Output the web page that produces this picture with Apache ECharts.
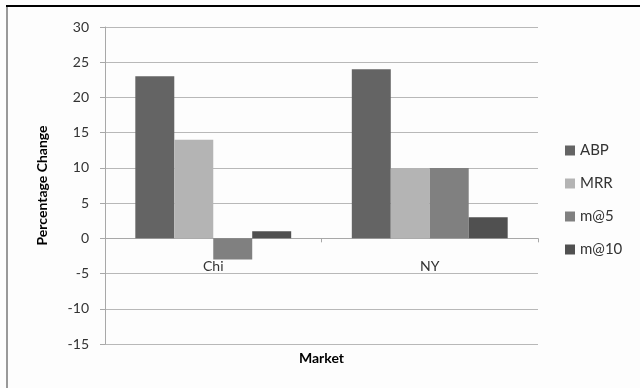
<!DOCTYPE html>
<html>
<head>
<meta charset="utf-8">
<script src="https://cdn.jsdelivr.net/npm/echarts@6/dist/echarts.min.js"></script>
<style>
  html, body { margin: 0; padding: 0; background: #fff; }
  #chart { width: 640px; height: 388px; }
</style>
</head>
<body>
<div id="chart"></div>
<script>
// Market categories and percentage change per ranking method
const markets = ['Chi', 'NY'];
const abp = [23, 24];
const mrr = [14, 10];
const m5 = [-3, 10];
const m10 = [1, 3];
const seriesNames = ['ABP', 'MRR', 'm@5', 'm@10'];
const seriesColors = ['#646464', '#b4b4b4', '#808080', '#505050'];

const font = 'Lato, "Open Sans", sans-serif';
const chart = echarts.init(document.getElementById('chart'), null, { renderer: 'canvas' });

const values = [abp, mrr, m5, m10];
const series = seriesNames.map((name, i) => ({
  name: name,
  type: 'bar',
  data: values[i],
  barGap: '0%',
  barCategoryGap: '28%',
  itemStyle: { color: seriesColors[i] },
  emphasis: { disabled: true }
}));

chart.setOption({
  backgroundColor: '#fdfdfd',
  animation: false,
  grid: { left: 105, right: 102, top: 27, bottom: 44, containLabel: false, outerBoundsMode: 'none' },
  legend: {
    orient: 'vertical',
    left: 560,
    top: 138,
    itemWidth: 10,
    itemHeight: 10,
    itemGap: 18,
    icon: 'rect',
    textStyle: { fontFamily: font, fontSize: 15, color: '#333' },
    data: seriesNames
  },
  xAxis: {
    type: 'category',
    data: markets,
    name: 'Market',
    nameLocation: 'middle',
    nameGap: 7,
    nameTextStyle: { fontFamily: font, fontSize: 14, fontWeight: 'bold', color: '#000' },
    axisLine: { onZero: true, lineStyle: { color: '#a8a8a8', width: 1 } },
    axisTick: { show: true, length: 4, lineStyle: { color: '#a8a8a8' } },
    // category labels sit just below the zero line
    axisLabel: { margin: -85, fontFamily: font, fontSize: 14, color: '#333' }
  },
  yAxis: {
    type: 'value',
    min: -15,
    max: 30,
    interval: 5,
    name: 'Percentage Change',
    nameLocation: 'middle',
    nameGap: 56,
    nameTextStyle: { fontFamily: font, fontSize: 14, fontWeight: 'bold', color: '#000' },
    axisLine: { show: true, lineStyle: { color: '#a8a8a8', width: 1 } },
    axisTick: { show: true, length: 5, lineStyle: { color: '#a8a8a8' } },
    axisLabel: { margin: 16, fontFamily: font, fontSize: 14, color: '#333' },
    splitLine: { lineStyle: { color: '#b8b8b8', width: 1 } }
  },
  graphic: [
    { type: 'rect', shape: { x: 6, y: 5, width: 634, height: 2 }, style: { fill: '#000' }, silent: true },
    { type: 'rect', shape: { x: 6, y: 7, width: 2, height: 381 }, style: { fill: '#999' }, silent: true }
  ],
  series: series
});
</script>
</body>
</html>
